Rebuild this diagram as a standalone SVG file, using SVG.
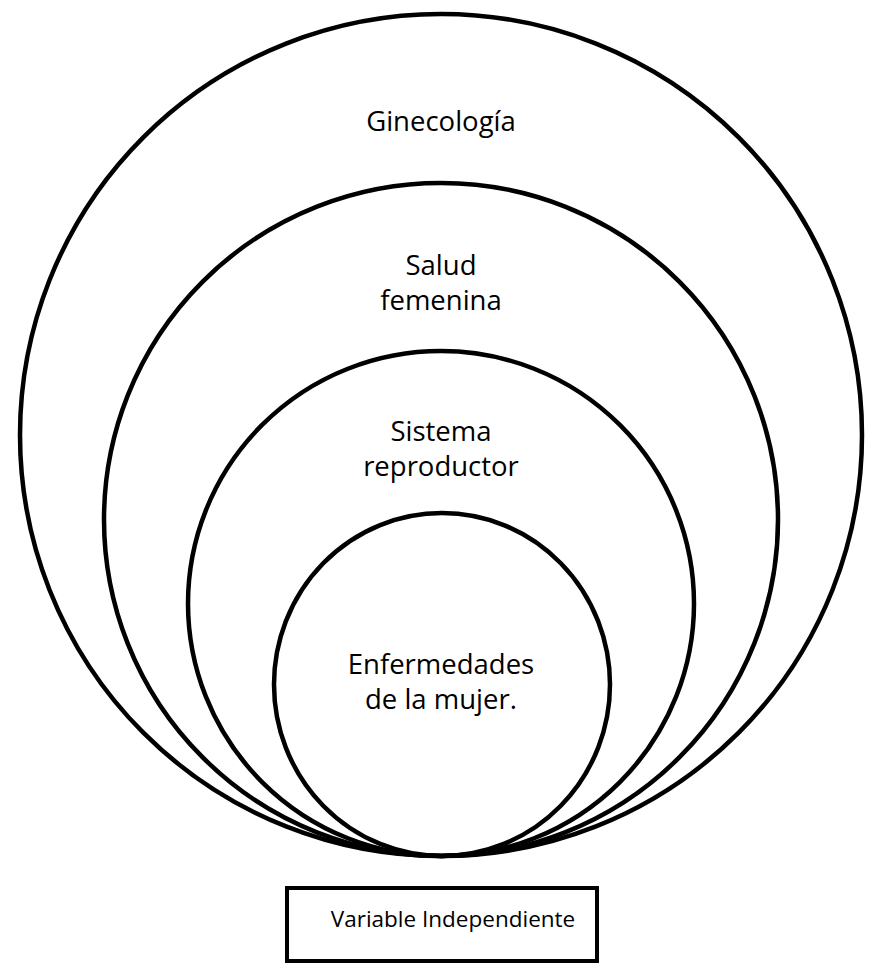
<svg xmlns="http://www.w3.org/2000/svg" width="876" height="978" viewBox="0 0 876 978">
<style>
.c{fill:none;stroke:#000;stroke-width:4.5}
.t{font-family:"Open Sans","Liberation Sans",sans-serif;font-size:27.5px;fill:#000;text-anchor:middle}
.s{font-family:"Open Sans","Liberation Sans",sans-serif;font-size:22.5px;fill:#000;text-anchor:middle}
</style>
<rect width="876" height="978" fill="#fff"/>
<g id="ginecologia">
<ellipse class="c" cx="441" cy="435" rx="421" ry="421"/>
<text class="t" x="441" y="131">Ginecología</text>
</g>
<g id="salud-femenina">
<ellipse class="c" cx="441" cy="519.5" rx="337" ry="336.5"/>
<text class="t" x="441" y="275">Salud</text>
<text class="t" x="441" y="310">femenina</text>
</g>
<g id="sistema-reproductor">
<ellipse class="c" cx="441" cy="603.5" rx="253" ry="252.5"/>
<text class="t" x="441" y="441">Sistema</text>
<text class="t" x="441" y="476">reproductor</text>
</g>
<g id="enfermedades">
<ellipse class="c" cx="442" cy="684.5" rx="168" ry="171.5"/>
<text class="t" x="441" y="674">Enfermedades</text>
<text class="t" x="441" y="709">de la mujer.</text>
</g>
<g id="variable-independiente">
<rect x="287" y="888" width="310" height="73" fill="none" stroke="#000" stroke-width="4"/>
<text class="s" x="453" y="927">Variable Independiente</text>
</g>
<g id="connectors"/>
</svg>
